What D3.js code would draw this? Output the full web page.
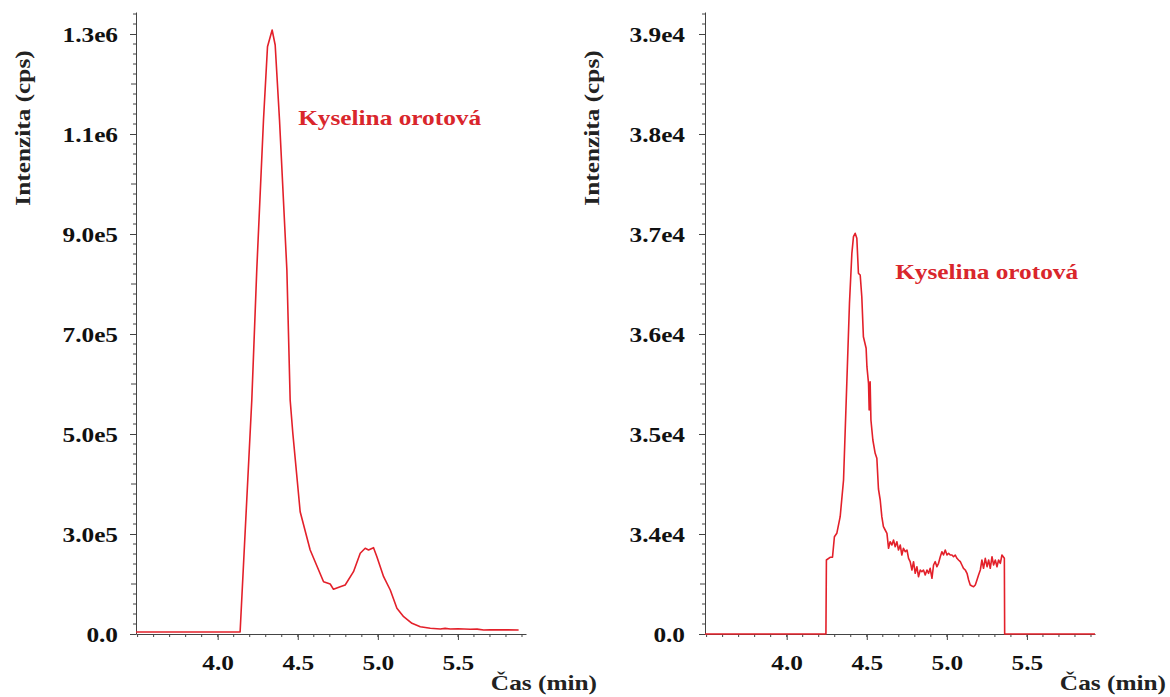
<!DOCTYPE html>
<html>
<head>
<meta charset="utf-8">
<script src="https://cdn.jsdelivr.net/npm/d3@7"></script>
<style>
  body { margin: 0; background: #fff; }
  text { font-family: "Liberation Serif", "Times New Roman", serif; font-weight: bold; }
</style>
</head>
<body>
<div id="chartContainer"></div>
<script>
// texty
var yTitle = "Intenzita (cps)";
var xTitle = "Čas (min)";
var peakName = "Kyselina orotová";

// osa x (min)
var xTicks = [4.0, 4.5, 5.0, 5.5];

// levý chromatogram
var timeL = [3.49, 4.14, 4.213, 4.244, 4.286, 4.311, 4.34, 4.359, 4.386, 4.432, 4.4525, 4.469, 4.515,
  4.5775, 4.661, 4.7025, 4.723, 4.765, 4.796, 4.848, 4.89, 4.921, 4.942, 4.973, 4.994, 5.036, 5.0775,
  5.119, 5.161, 5.213, 5.265, 5.3275, 5.39, 5.42, 5.4525, 5.5, 5.5775, 5.62, 5.661, 5.7, 5.879];
var intensL = [104000, 104000, 568000, 828000, 1128000, 1274600, 1308000, 1278000, 1128000, 828000, 568000, 502000, 344600,
  268000, 204600, 200000, 189400, 194600, 198000, 224600, 261400, 271400, 268000, 272600, 254600, 214600, 188000,
  151400, 134600, 121400, 114600, 111400, 110000, 111200, 110000, 110600, 109400, 109800, 108000, 108600, 108000];
var yTicksL = [0, 3e5, 5e5, 7e5, 9e5, 1.1e6, 1.3e6];

// pravý chromatogram
var timeR = [3.49, 4.245, 4.248, 4.271, 4.286, 4.298, 4.313, 4.334, 4.355, 4.376, 4.392, 4.407, 4.417, 4.4275,
  4.438, 4.448, 4.459, 4.469, 4.479, 4.496, 4.501, 4.511, 4.515, 4.521, 4.526, 4.538, 4.5525, 4.563, 4.573,
  4.584, 4.594, 4.604, 4.615, 4.626, 4.636, 4.646, 4.657, 4.667, 4.6775, 4.688, 4.698, 4.709, 4.719, 4.729,
  4.74, 4.751, 4.761, 4.771, 4.782, 4.792, 4.8025, 4.813, 4.823, 4.834, 4.844, 4.854, 4.865, 4.876, 4.886,
  4.896, 4.907, 4.917, 4.9275, 4.938, 4.948, 4.959, 4.969, 4.979, 4.99, 5.001, 5.011, 5.021, 5.032, 5.042,
  5.0525, 5.063, 5.073, 5.084, 5.094, 5.104, 5.115, 5.126, 5.136, 5.146, 5.157, 5.167, 5.1775, 5.188, 5.198,
  5.209, 5.219, 5.229, 5.24, 5.251, 5.261, 5.271, 5.282, 5.292, 5.3025, 5.313, 5.323, 5.334, 5.344, 5.359,
  5.361, 5.925];
var intensR = [0, 0, 33740, 33767, 33767, 33973, 34007, 34173, 34540, 35540, 36307, 36807, 36973, 37007,
  36957, 36607, 36590, 36373, 35973, 35857, 35673, 35507, 35240, 35523, 35140, 34940, 34807, 34757, 34450,
  34340, 34173, 34073, 34040, 34007, 33857, 33923, 33890, 33940, 33873, 33923, 33840, 33890, 33790, 33857,
  33823, 33840, 33757, 33723, 33640, 33723, 33607, 33673, 33573, 33640, 33623, 33640, 33590, 33640, 33607,
  33657, 33557, 33690, 33723, 33673, 33707, 33773, 33823, 33790, 33840, 33790, 33807, 33790, 33790, 33773,
  33790, 33757, 33740, 33723, 33690, 33657, 33640, 33607, 33540, 33490, 33480, 33473, 33490, 33540, 33590,
  33640, 33740, 33657, 33757, 33673, 33740, 33657, 33773, 33690, 33740, 33673, 33740, 33707, 33790, 33757,
  0, 0];
var yTicksR = [0, 3.4e4, 3.5e4, 3.6e4, 3.7e4, 3.8e4, 3.9e4];

var W = 1170, H = 697;
var svg = d3.select("#chartContainer").append("svg")
  .attr("width", W)
  .attr("height", H);

function fmt(d){
  if (d === 0) return "0.0";
  return d3.format(".1e")(d).replace("e+", "e");
}

// písmo je v předloze roztažené
function stretch(sel, k){
  sel.each(function(){
    var l = this.getComputedTextLength();
    d3.select(this).attr("textLength", l * k).attr("lengthAdjust", "spacingAndGlyphs");
  });
}

// jeden panel (osa y je přerušená: 0 leží na spodku osy)
function panel(p){
  var width = 390, height = 622;
  var g = svg.append("g").attr("transform", "translate(" + p.left + ",12)");

  var x = d3.scaleLinear().domain([3.49, 5.925]).range([0, width]);
  var y = d3.scaleLinear().domain([0, p.base, p.top]).range([height, height, 0]);

  // vedlejší značky na ose y
  var minor = d3.range(p.base, p.top, p.step / 10);
  g.selectAll(".ym").data(minor).enter().append("line")
    .attr("x1", function(d, i){ return i % 5 === 0 ? (i % 10 === 0 ? 0 : -5) : -3; })
    .attr("x2", 0)
    .attr("y1", function(d){ return y(d); })
    .attr("y2", function(d){ return y(d); })
    .attr("stroke", "#444").attr("stroke-width", 1);

  // vedlejší značky na ose x
  var xm = d3.range(3.5, 5.95, 0.1);
  g.selectAll(".xm").data(xm).enter().append("line")
    .attr("x1", function(d){ return x(d); })
    .attr("x2", function(d){ return x(d); })
    .attr("y1", height).attr("y2", height + 3)
    .attr("stroke", "#444").attr("stroke-width", 1);

  var yAxis = d3.axisLeft(y).tickValues(p.yTicks).tickFormat(fmt)
    .tickSize(6).tickSizeOuter(0).tickPadding(p.pad);
  var xAxis = d3.axisBottom(x).tickValues(xTicks).tickFormat(d3.format(".1f"))
    .tickSize(6).tickSizeOuter(0).tickPadding(14);

  var ya = g.append("g").call(yAxis);
  var xa = g.append("g").attr("transform", "translate(0," + height + ")").call(xAxis);
  [ya, xa].forEach(function(a){
    a.select(".domain").attr("stroke", "#444");
    a.selectAll(".tick line").attr("stroke", "#444");
    a.selectAll("text").attr("fill", "#111").style("font-size", "22px")
      .style("font-family", "'Liberation Serif', serif").style("font-weight", "bold")
      .call(stretch, 1.15);
  });

  // chromatogram
  var line = d3.line()
    .x(function(d){ return x(d[0]); })
    .y(function(d){ return y(d[1]); });
  var pts = p.t.map(function(t, i){ return [t, p.v[i]]; });
  g.append("path").datum(pts)
    .attr("d", line)
    .attr("fill", "none")
    .attr("stroke", "#e3202a")
    .attr("stroke-width", 1.6)
    .attr("stroke-linejoin", "round");

  // popisek píku
  g.append("text")
    .attr("x", x(p.labelAt[0]))
    .attr("y", y(p.labelAt[1]))
    .attr("fill", "#d9262c")
    .style("font-size", "22px")
    .text(peakName)
    .call(stretch, 1.15);

  // titulky os
  g.append("text")
    .attr("transform", "translate(" + p.titleX + ",116) rotate(-90)")
    .attr("text-anchor", "middle")
    .attr("fill", "#222")
    .style("font-size", "22px")
    .text(yTitle)
    .call(stretch, 1.15);

  g.append("text")
    .attr("x", width + 71)
    .attr("y", height + 56)
    .attr("text-anchor", "end")
    .attr("fill", "#222")
    .style("font-size", "22px")
    .text(xTitle)
    .call(stretch, 1.15);
}

panel({left: 136, t: timeL, v: intensL, yTicks: yTicksL, base: 1e5, top: 1.344e6, step: 2e5,
  pad: 12, labelAt: [4.5025, 1.118e6], titleX: -106});
panel({left: 705, t: timeR, v: intensR, yTicks: yTicksR, base: 3.3e4, top: 3.922e4, step: 1e3,
  pad: 14, labelAt: [4.6775, 36550], titleX: -106});
</script>
</body>
</html>
